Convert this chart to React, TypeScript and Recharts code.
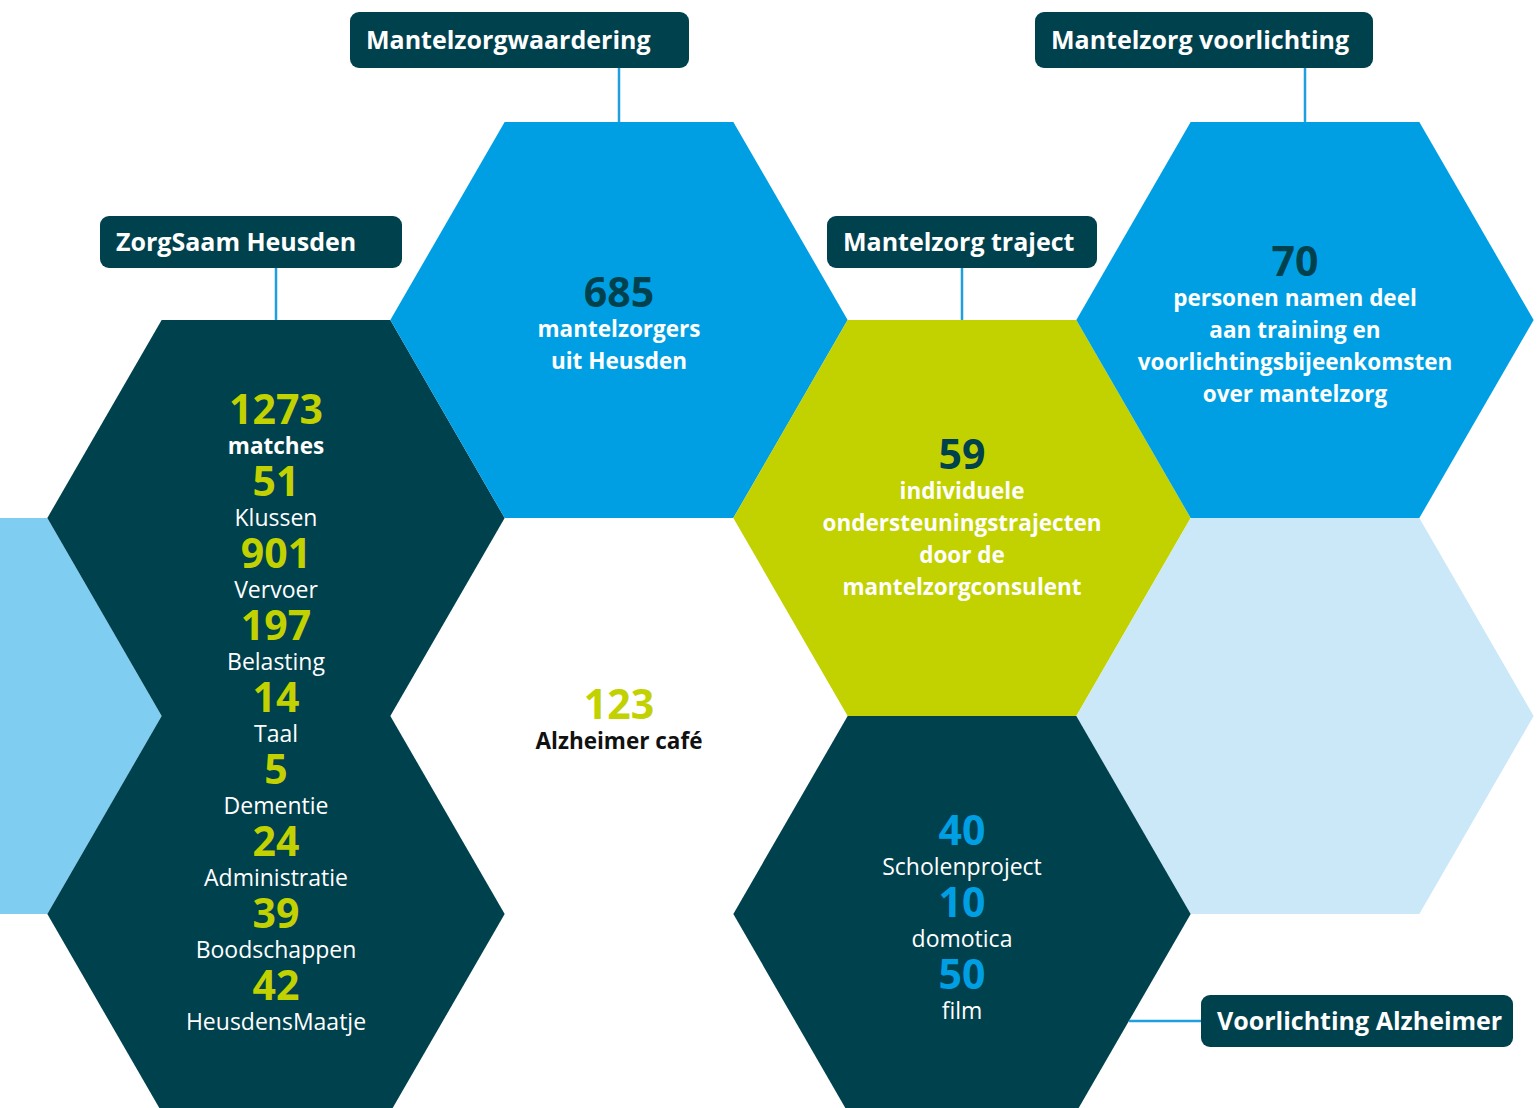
import { ReferenceLine, Scatter, ScatterChart, XAxis, YAxis } from "recharts";

const CHART_WIDTH = 1539;
const CHART_HEIGHT = 1108;

// hex grid: one column = 1.5 radius, one row = half a hex height
const COL_PX = 343;
const ROW_PX = 198;
const HEX_R = COL_PX / 1.5;
const X_MIN = 67 / COL_PX;
const Y_MIN = -320 / ROW_PX;

const COLORS = {
  dark: "#00414e",
  blue: "#009fe3",
  green: "#c2d100",
  light: "#80cdf2",
  pale: "#cbe8f8",
  line: "#1e9fe0",
  black: "#111111",
  white: "#ffffff",
};

const FONT = "'Open Sans', 'Noto Sans', sans-serif";

// hex cells (column, row in half-heights)
const hexCols = [0, 1, 1, 2, 3, 4, 4, 3];
const hexRows = [2, 1, 3, 0, 1, 0, 2, 3];
const hexKinds = ["light", "dark", "dark", "blue", "green", "blue", "pale", "dark"];

// ZorgSaam Heusden
const zorgSaamCounts = [1273, 51, 901, 197, 14, 5, 24, 39, 42];
const zorgSaamLabels = [
  "matches",
  "Klussen",
  "Vervoer",
  "Belasting",
  "Taal",
  "Dementie",
  "Administratie",
  "Boodschappen",
  "HeusdensMaatje",
];

// Mantelzorgwaardering
const waarderingCount = 685;
const waarderingLines = ["mantelzorgers", "uit Heusden"];

// Mantelzorg voorlichting
const voorlichtingCount = 70;
const voorlichtingLines = [
  "personen namen deel",
  "aan training en",
  "voorlichtingsbijeenkomsten",
  "over mantelzorg",
];

// Mantelzorg traject
const trajectCount = 59;
const trajectLines = [
  "individuele",
  "ondersteuningstrajecten",
  "door de",
  "mantelzorgconsulent",
];

// Alzheimer café
const cafeCount = 123;
const cafeLines = ["Alzheimer café"];

// Voorlichting Alzheimer
const alzheimerCounts = [40, 10, 50];
const alzheimerLabels = ["Scholenproject", "domotica", "film"];

const titleTexts = [
  "ZorgSaam Heusden",
  "Mantelzorgwaardering",
  "Mantelzorg traject",
  "Mantelzorg voorlichting",
  "Voorlichting Alzheimer",
];
const titleHex = [1, 3, 4, 5, 7];

// box placement relative to the hex centre, in px
const TITLE_LAYOUT = [
  { dx: -176, dy: -302, w: 302, h: 52, side: "top" },
  { dx: -269, dy: -308, w: 339, h: 56, side: "top" },
  { dx: -135, dy: -302, w: 270, h: 52, side: "top" },
  { dx: -270, dy: -308, w: 338, h: 56, side: "top" },
  { dx: 239, dy: 81, w: 312, h: 52, side: "right" },
];

// fine nudges of each text block, in px
const BLOCK_LAYOUT = [
  { dx: 0, dy: -5 },
  { dx: 0, dy: 2 },
  { dx: -10, dy: 3 },
  { dx: 0, dy: -2 },
  { dx: 0, dy: 2 },
  { dx: 0, dy: 2 },
];

type Line = { text: string; kind: "num" | "label" | "bold"; color: string };

function pairLines(counts: number[], labels: string[], numColor: string, boldFirst: boolean): Line[] {
  return counts.flatMap((count, i) => [
    { text: String(count), kind: "num" as const, color: numColor },
    {
      text: labels[i],
      kind: boldFirst && i === 0 ? ("bold" as const) : ("label" as const),
      color: COLORS.white,
    },
  ]);
}

function headLines(count: number, lines: string[], numColor: string, textColor: string): Line[] {
  return [
    { text: String(count), kind: "num", color: numColor },
    ...lines.map((text) => ({ text, kind: "bold" as const, color: textColor })),
  ];
}

const blocks = [
  { col: 1, row: 2, lines: pairLines(zorgSaamCounts, zorgSaamLabels, COLORS.green, true) },
  { col: 2, row: 0, lines: headLines(waarderingCount, waarderingLines, COLORS.dark, COLORS.white) },
  { col: 4, row: 0, lines: headLines(voorlichtingCount, voorlichtingLines, COLORS.dark, COLORS.white) },
  { col: 3, row: 1, lines: headLines(trajectCount, trajectLines, COLORS.dark, COLORS.white) },
  { col: 2, row: 2, lines: headLines(cafeCount, cafeLines, COLORS.green, COLORS.black) },
  { col: 3, row: 3, lines: pairLines(alzheimerCounts, alzheimerLabels, COLORS.blue, false) },
].map((b, i) => ({ ...b, nudge: BLOCK_LAYOUT[i] }));

const hexData = hexCols.map((col, i) => ({ col, row: hexRows[i], kind: hexKinds[i] }));

const titleData = titleTexts.map((text, i) => ({
  col: hexCols[titleHex[i]],
  row: hexRows[titleHex[i]],
  text,
  layout: TITLE_LAYOUT[i],
}));

const hexHalfHeight = (HEX_R * Math.sqrt(3)) / 2;

function hexPoints(cx: number, cy: number): string {
  const r = HEX_R;
  const h = hexHalfHeight;
  return [
    [cx - r, cy],
    [cx - r / 2, cy - h],
    [cx + r / 2, cy - h],
    [cx + r, cy],
    [cx + r / 2, cy + h],
    [cx - r / 2, cy + h],
  ]
    .map((p) => p.join(","))
    .join(" ");
}

function HexShape(props: any) {
  const { cx, cy, payload } = props;
  return <polygon points={hexPoints(cx, cy)} fill={(COLORS as any)[payload.kind]} />;
}

const GAP = {
  numToText: 30,
  textToNum: 42,
  textToText: 32,
};

function TextBlock(props: any) {
  const { cx, cy, payload } = props;
  const lines: Line[] = payload.lines;
  const baselines: number[] = [];
  let y = 0;
  lines.forEach((line, i) => {
    if (i > 0) {
      const prev = lines[i - 1];
      y += prev.kind === "num" ? GAP.numToText : line.kind === "num" ? GAP.textToNum : GAP.textToText;
    }
    baselines.push(y);
  });
  const top = -31;
  const bottom = baselines[baselines.length - 1];
  const shift = cy - (top + bottom) / 2 + payload.nudge.dy;
  const x = cx + payload.nudge.dx;
  return (
    <g>
      {lines.map((line, i) => (
        <text
          key={i}
          x={x}
          y={baselines[i] + shift}
          textAnchor="middle"
          fill={line.color}
          fontFamily={FONT}
          fontWeight={line.kind === "label" ? 400 : 700}
          fontSize={line.kind === "num" ? 41 : line.kind === "bold" ? 22.5 : 23}
        >
          {line.text}
        </text>
      ))}
    </g>
  );
}

function TitleShape(props: any) {
  const { cx, cy, payload } = props;
  const { dx, dy, w, h, side } = payload.layout;
  const x = cx + dx;
  const y = cy + dy;
  let connector;
  if (side === "top") {
    connector = <line x1={cx} x2={cx} y1={y + h} y2={cy - hexHalfHeight} stroke={COLORS.line} strokeWidth={2.5} />;
  } else {
    const ly = y + h / 2;
    const edgeX = cx + HEX_R - ((ly - cy) / hexHalfHeight) * (HEX_R / 2);
    connector = <line x1={edgeX} x2={x} y1={ly} y2={ly} stroke={COLORS.line} strokeWidth={2.5} />;
  }
  return (
    <g>
      {connector}
      <rect x={x} y={y} width={w} height={h} rx={9} ry={9} fill={COLORS.dark} />
      <text
        x={x + 16}
        y={y + h / 2 + 9}
        fill={COLORS.white}
        fontFamily={FONT}
        fontWeight={700}
        fontSize={25}
      >
        {payload.text}
      </text>
    </g>
  );
}

export default function App() {
  const seamCol = hexCols[2];
  const seamRow = (hexRows[1] + hexRows[2]) / 2;
  return (
    <div style={{ position: "absolute", left: 0, top: 0, width: CHART_WIDTH, height: CHART_HEIGHT, background: "#fff" }}>
      <ScatterChart width={CHART_WIDTH} height={CHART_HEIGHT} margin={{ top: 0, right: 0, bottom: 0, left: 0 }}>
        <XAxis
          type="number"
          dataKey="col"
          domain={[X_MIN, X_MIN + CHART_WIDTH / COL_PX]}
          allowDataOverflow
          hide
        />
        <YAxis
          type="number"
          dataKey="row"
          domain={[Y_MIN, Y_MIN + CHART_HEIGHT / ROW_PX]}
          allowDataOverflow
          reversed
          hide
        />
        <Scatter data={hexData} shape={HexShape} isAnimationActive={false} />
        <ReferenceLine
          segment={[
            { x: seamCol - 1 / 3, y: seamRow },
            { x: seamCol + 1 / 3, y: seamRow },
          ]}
          stroke="#7aa6b2"
          strokeWidth={1}
          ifOverflow="visible"
        />
        <Scatter data={blocks} dataKey="row" shape={TextBlock} isAnimationActive={false} />
        <Scatter data={titleData} shape={TitleShape} isAnimationActive={false} />
      </ScatterChart>
    </div>
  );
}
